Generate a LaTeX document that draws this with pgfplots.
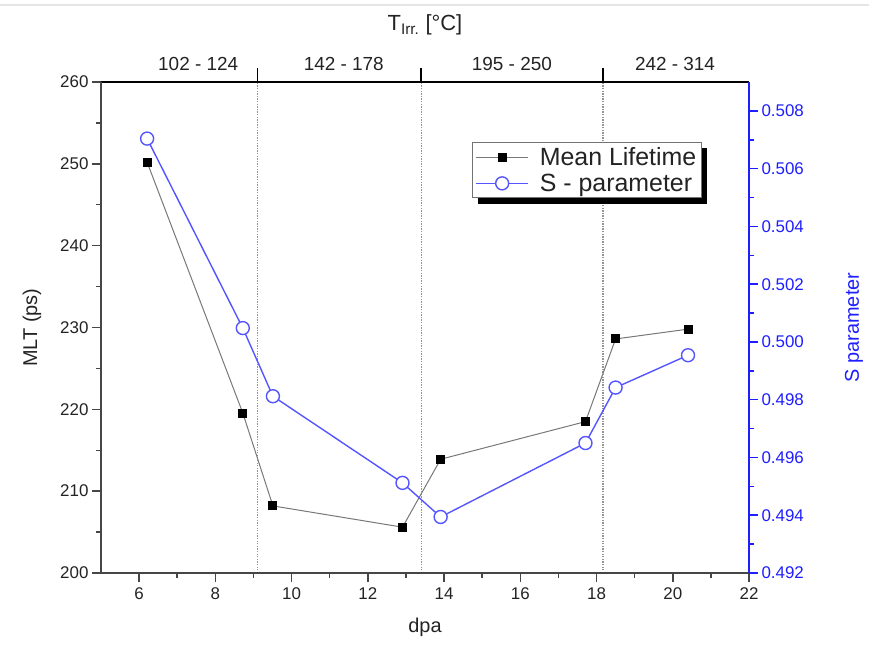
\documentclass[border=0pt]{standalone}
\usepackage{fontspec}
\setmainfont{Liberation Sans}
\usepackage{pgfplots}
\pgfplotsset{compat=1.18}
\definecolor{sblue}{RGB}{85,85,255}
\definecolor{rblue}{RGB}{30,30,255}
\definecolor{mltgray}{RGB}{120,120,120}
\definecolor{axgray}{RGB}{70,70,70}
\definecolor{txt}{RGB}{35,35,35}

\pgfplotsset{
  every axis/.append style={
    scale only axis, width=648bp, height=491bp, at={(0,0)}, anchor=south west,
    xmin=5, xmax=22,
    /pgf/number format/assume math mode=true,
    tick label style={font=\fontsize{17}{20}\selectfont, text=txt},
  },
  mylegend/.style={
    legend style={anchor=north west, line width=1bp,
      font=\fontsize{25}{29}\selectfont,
      inner sep=3bp, row sep=3bp,
      /tikz/every odd column/.append style={column sep=9bp}},
    legend cell align=left,
    legend image code/.code={\draw[mark repeat=2,mark phase=2,##1] plot coordinates {(0bp,0bp) (26bp,0bp) (52bp,0bp)};},
  },
}

\begin{document}
\begin{tikzpicture}
\useasboundingbox (-101bp,-73bp) rectangle (768bp,573bp);
\draw[line width=2bp, black!10] (-101bp,568bp) -- (768bp,568bp);

% top axis with temperature ranges and dotted separators (+ legend shadow)
\begin{axis}[
  axis x line*=top, axis y line=none, ymin=0, ymax=1,
  xtick={9.1,13.4,18.17}, xticklabels={,,},
  tick align=outside, major tick length=14bp,
  xtick style={line width=1.5bp, black},
  axis line style={line width=1.5bp, black},
  xmajorgrids, major grid style={line width=1.2bp, gray!85, dash pattern=on 1.3bp off 1.3bp},
  extra x ticks={7.55,11.37,15.78,20.06},
  extra x tick labels={102 - 124,142 - 178,195 - 250,242 - 314},
  extra x tick style={major tick length=0pt, grid=none,
     tick label style={font=\fontsize{19}{22}\selectfont, yshift=8bp}},
  xlabel={T\textsubscript{Irr.} [°C]},
  every axis x label/.style={at={(axis description cs:0.5,1.116)}, anchor=center,
     font=\fontsize{22}{26}\selectfont, text=txt},
  mylegend,
  legend style={at={(axis description cs:0.58176,0.86578)}, fill=black, draw=black, text=black},
]
\addlegendimage{black, line width=1bp, mark=*, mark size=6.5bp}
\addlegendentry{\phantom{Mean Lifetime}}
\addlegendimage{black, line width=1bp, mark=*, mark size=6.5bp}
\addlegendentry{\phantom{S - parameter}}
\end{axis}

% left axis: mean lifetime
\begin{axis}[
  axis x line*=bottom, axis y line*=left,
  ymin=200, ymax=260,
  xtick={6,8,...,22}, minor x tick num=1,
  ytick={200,210,...,260}, minor y tick num=1,
  tick align=outside, major tick length=9bp, minor tick length=5bp,
  every tick/.style={line width=1.5bp, axgray},
  axis line style={line width=1.8bp, axgray},
  xticklabel style={yshift=-2bp},
  xlabel={dpa}, ylabel={MLT (ps)},
  every axis x label/.style={at={(axis description cs:0.5,-0.11)}, anchor=center,
     font=\fontsize{20}{24}\selectfont, text=txt},
  every axis y label/.style={at={(axis description cs:-0.1065,0.5)}, rotate=90, anchor=center,
     font=\fontsize{20}{24}\selectfont, text=txt},
]
\addplot[mltgray, line width=1bp, mark=square*, mark size=4bp,
  mark options={fill=black, draw=black, solid}] coordinates {
  (6.21,250.2) (8.72,219.55) (9.51,208.2) (12.91,205.6)
  (13.91,213.9) (17.71,218.5) (18.50,228.6) (20.40,229.8)
};
\end{axis}

% right axis: S parameter
\begin{axis}[
  axis x line=none, axis y line*=right,
  ymin=0.492, ymax=0.509,
  ytick={0.492,0.494,0.496,0.498,0.500,0.502,0.504,0.506,0.508},
  minor y tick num=1, scaled y ticks=false,
  tick align=outside, major tick length=9bp, minor tick length=5bp,
  every tick/.style={line width=1.5bp, rblue},
  axis line style={line width=1.8bp, rblue},
  yticklabel style={/pgf/number format/.cd, fixed, fixed zerofill, precision=3, /tikz/.cd, text=rblue},
  ylabel={S parameter},
  every axis y label/.style={at={(axis description cs:1.162,0.5)}, rotate=90, anchor=center,
     font=\fontsize{20}{24}\selectfont, text=rblue},
  mylegend,
  legend style={at={(axis description cs:0.5725,0.878)}, fill=white, draw=black!55, text=txt},
]
\addlegendimage{mltgray, line width=1bp, mark=square*, mark size=4bp, mark options={fill=black, draw=black, solid}}
\addlegendentry{Mean Lifetime}
\addplot[sblue, line width=1.4bp, mark=*, mark size=6.5bp,
  mark options={fill=white, draw=sblue, line width=1.4bp}] coordinates {
  (6.21,0.50704) (8.72,0.50048) (9.51,0.49812) (12.91,0.49512)
  (13.91,0.49394) (17.71,0.49650) (18.50,0.49842) (20.40,0.49954)
};
\addlegendentry{S - parameter}
\end{axis}
\end{tikzpicture}
\end{document}
